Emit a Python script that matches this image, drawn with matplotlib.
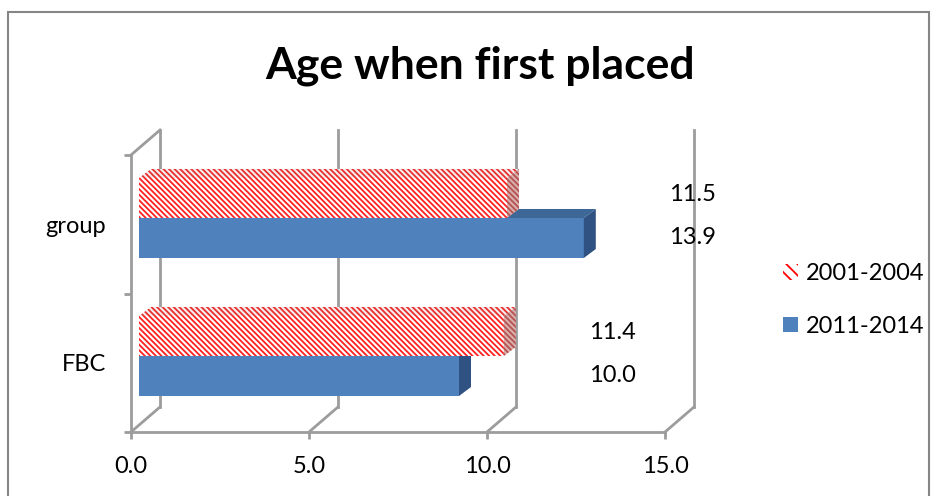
import matplotlib.pyplot as plt
from matplotlib.patches import Patch, Polygon, Rectangle

plt.rcParams['font.family'] = ['Lato', 'DejaVu Sans']
plt.rcParams['hatch.linewidth'] = 1.3

# data
categories = ['FBC', 'group']
series_names = ['2001-2004', '2011-2014']
vals_0104 = [11.4, 11.5]
vals_1114 = [10.0, 13.9]
x_ticks = [0, 5, 10, 15]

W, H = 932, 496
BLUE = '#4F81BD'
BLUE_TOP = '#3D6796'
BLUE_SIDE = '#2F5283'
GRID = '#9C9C9C'
HATCH = '\\' * 6
LW = 2.0

fig = plt.figure(figsize=(W / 100, H / 100), dpi=100)


def px_box(l, t, r, b):
    return [l / W, 1 - b / H, (r - l) / W, (b - t) / H]


# outer chart border
fig.patches.append(Rectangle((8 / W, -0.02), (929 - 8) / W, 1 - 12 / H + 0.02,
                             transform=fig.transFigure, fill=False,
                             edgecolor='#868686', lw=1.5))

# ---- front plane / walls ----
frame = fig.add_axes(px_box(131, 155, 665, 432))
frame.set_xlim(0, 15)
frame.set_ylim(0, 2)
frame.patch.set_visible(False)
for s in ['top', 'right']:
    frame.spines[s].set_visible(False)
for s in ['left', 'bottom']:
    frame.spines[s].set_color(GRID)
    frame.spines[s].set_linewidth(LW)

DX = 29 / 35.6   # depth shift in x units
DY = 25 / 138.5  # depth shift in y units
for x in x_ticks:
    frame.plot([x, x + DX], [0, DY], color=GRID, lw=LW, clip_on=False)
    frame.plot([x + DX, x + DX], [DY, 2 + DY], color=GRID, lw=LW, clip_on=False)
frame.plot([0, DX], [2, 2 + DY], color=GRID, lw=LW, clip_on=False)

frame.set_xticks(x_ticks)
frame.set_xticklabels([f'{x:.1f}' for x in x_ticks], fontsize=17)
frame.tick_params(axis='x', length=5, width=LW, color=GRID, pad=12)
frame.set_yticks([0.5, 1.5])
frame.set_yticklabels(categories, fontsize=17)
frame.set_yticks([0, 1, 2], minor=True)
frame.tick_params(axis='y', which='major', length=0, pad=18)
frame.tick_params(axis='y', which='minor', length=5, width=LW, color=GRID)

# ---- bars (mid-depth plane) ----
ax = fig.add_axes(px_box(139, 149, 619, 425), zorder=2)
ax.set_xlim(0, 15)
ax.set_ylim(-0.5, 1.5)
ax.axis('off')

BH = 0.29
ddx, ddy = 12 / 32, 9 / 138
ypos = list(range(len(categories)))


def faces(v, y0, fc, ec=None, hatch=None, z=2):
    top = Polygon([(0, y0 + BH), (v, y0 + BH), (v + ddx, y0 + BH + ddy), (ddx, y0 + BH + ddy)],
                  facecolor=fc[0], edgecolor=ec[0] if ec else 'none', hatch=hatch, lw=0, zorder=z)
    side = Polygon([(v, y0), (v, y0 + BH), (v + ddx, y0 + BH + ddy), (v + ddx, y0 + ddy)],
                   facecolor=fc[1], edgecolor=ec[1] if ec else 'none', hatch=hatch, lw=0, zorder=z)
    ax.add_patch(top)
    ax.add_patch(side)


for c, a, b in zip(ypos, vals_0104, vals_1114):
    ax.barh(c - BH, b, height=BH, align='edge', color=BLUE, lw=0, zorder=2)
    faces(b, c - BH, (BLUE_TOP, BLUE_SIDE), z=2)
    ax.barh(c, a, height=BH, align='edge', facecolor='white', edgecolor='#FF2020',
            hatch=HATCH, lw=0, zorder=3)
    faces(a, c, ('#F6ECEC', '#D9AFAD'), ec=('#E83030', '#B55250'), hatch=HATCH, z=3)

    xl = max(a, b) + 3.4
    ax.text(xl, c + 0.17, f'{a:.1f}', ha='center', va='center', fontsize=17)
    ax.text(xl, c - 0.14, f'{b:.1f}', ha='center', va='center', fontsize=17)

# legend
handles = [Patch(facecolor='white', edgecolor='#FF0000', hatch='\\' * 3, lw=0, label=series_names[0]),
           Patch(facecolor=BLUE, lw=0, label=series_names[1])]
fig.legend(handles=handles, loc='upper left', bbox_to_anchor=(783 / W, 1 - 263 / H),
           frameon=False, handlelength=0.65, handleheight=0.65, handletextpad=0.3,
           labelspacing=1.35, borderpad=0, borderaxespad=0, fontsize=17)

fig.text(480 / W, 1 - 66 / H, 'Age when first placed', ha='center', va='center',
         fontsize=32, fontweight='bold')

fig.savefig('out.png', dpi=100)
